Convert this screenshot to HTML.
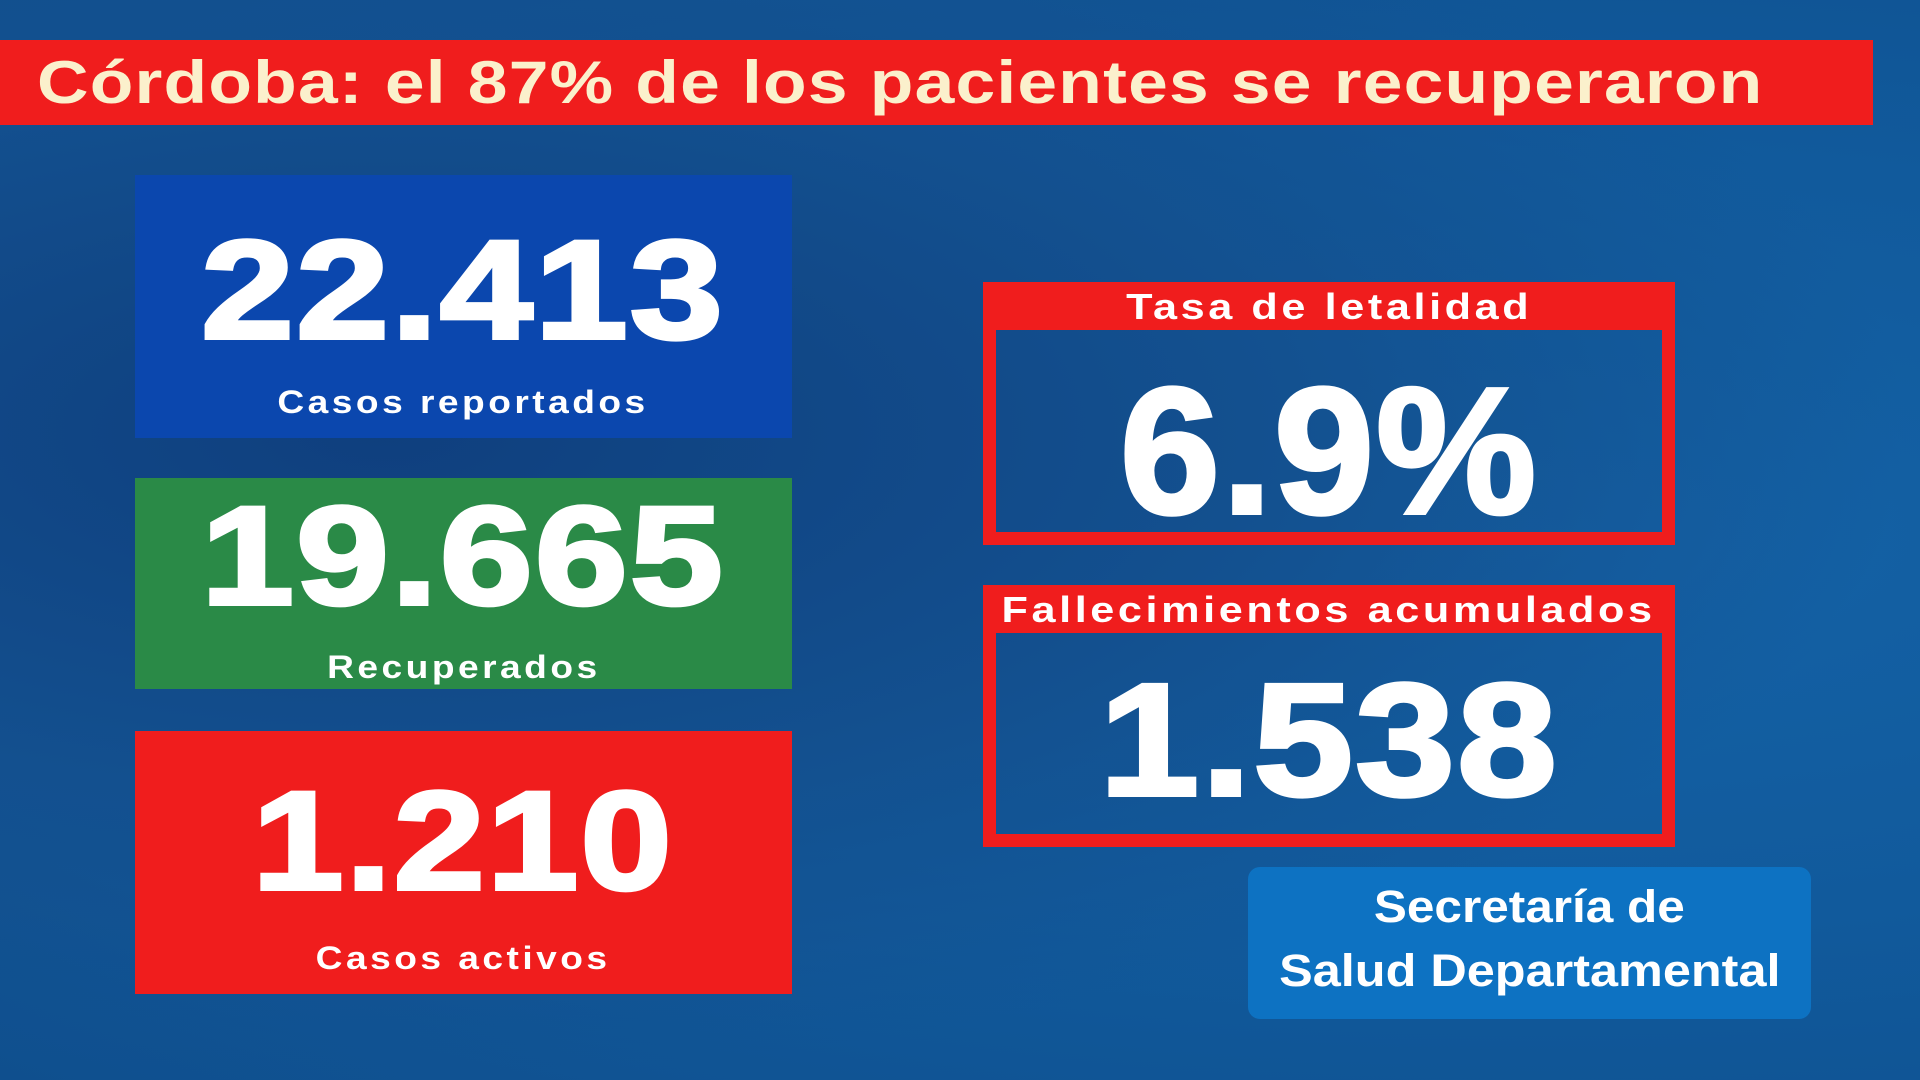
<!DOCTYPE html>
<html><head><meta charset="utf-8"><style>
*{margin:0;padding:0;box-sizing:border-box}
body{width:1920px;height:1080px;overflow:hidden;position:relative;font-family:"Liberation Sans","DejaVu Sans",sans-serif;
background:radial-gradient(ellipse at 20% 40%,#0f3f7e 0%,#13508f 40%,transparent 70%),radial-gradient(ellipse at 80% 50%,#1462a6 0%,#115a9c 50%,#0f4f8e 100%);}
.abs{position:absolute}
.title{left:0;top:40px;width:1873px;height:85px;background:#f01d1d;color:#fbf0cc;font-weight:bold;font-size:60px;line-height:85px;padding-left:37px;letter-spacing:1px}
.title span{display:inline-block;transform:scaleX(1.19);transform-origin:left center}
.box{left:135px;width:657px;color:#fff;text-align:center}
.num{font-weight:900;font-size:140px;letter-spacing:2px;position:absolute;left:0;right:0;line-height:1;-webkit-text-stroke:4px #fff}
.lbl{font-weight:bold;font-size:32px;letter-spacing:3px;position:absolute;left:0;right:0;line-height:1}
.num span,.lbl span,.hdr span,.sec span{display:inline-block}
.frame{left:983px;width:692px;border:13px solid #f01d1d;border-top:none;color:#fff;text-align:center}
.hdr{position:absolute;left:-13px;right:-13px;top:0;height:48px;background:#f01d1d;font-weight:bold;font-size:36px;letter-spacing:3px;line-height:50px}
.hdr span{transform:scaleX(1.2)}
.lbl span{transform:scaleX(1.16)}
</style></head><body>
<div class="abs title"><span>Córdoba: el 87% de los pacientes se recuperaron</span></div>

<div class="abs box" style="top:175px;height:263px;background:#0b47ae">
<div class="num" style="top:45px"><span style="transform:scaleX(1.19)">22.413</span></div>
<div class="lbl" style="top:211px"><span>Casos reportados</span></div></div>

<div class="abs box" style="top:478px;height:211px;background:#2a8a47">
<div class="num" style="top:8px"><span style="transform:scaleX(1.19)">19.665</span></div>
<div class="lbl" style="top:173px"><span>Recuperados</span></div></div>

<div class="abs box" style="top:731px;height:263px;background:#f01d1d">
<div class="num" style="top:40px"><span style="transform:scaleX(1.17)">1.210</span></div>
<div class="lbl" style="top:211px"><span>Casos activos</span></div></div>

<div class="abs frame" style="top:282px;height:263px">
<div class="hdr"><span>Tasa de letalidad</span></div>
<div class="num" style="top:80px;font-size:180px"><span style="transform:scaleX(1.0)">6.9%</span></div></div>

<div class="abs frame" style="top:585px;height:262px">
<div class="hdr"><span>Fallecimientos acumulados</span></div>
<div class="num" style="top:75px;font-size:160px"><span style="transform:scaleX(1.12)">1.538</span></div></div>

<div class="abs sec" style="left:1248px;top:867px;width:563px;height:152px;background:#0d72c2;border-radius:12px;color:#fff;text-align:center;font-weight:bold;font-size:45px;line-height:64px;padding-top:8px"><span style="transform:scaleX(1.1)">Secretaría de</span><br><span style="transform:scaleX(1.12)">Salud Departamental</span></div>
</body></html>
